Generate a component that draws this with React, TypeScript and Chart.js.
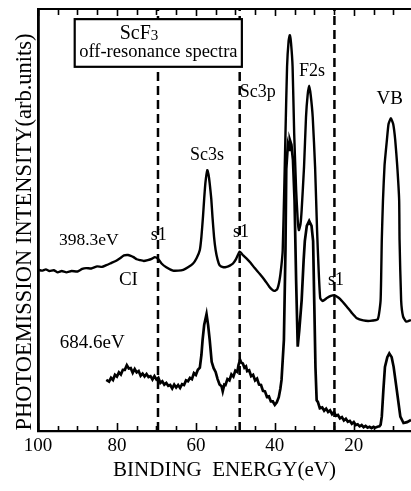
import React, { useEffect, useRef } from "react";
import { Chart, registerables } from "chart.js";

Chart.register(...registerables);

// Binding energy (eV) and intensity (arb. units) — 398.3 eV spectrum
const upperBE = [
  99.9, 99.0, 98.0, 97.1, 96.0, 95.0, 94.0, 92.8, 91.5, 90.0, 88.8, 87.8, 86.5, 85.0, 83.8, 82.7,
  81.5, 80.3, 79.3, 78.2, 77.2, 76.5, 75.8, 75.0, 74.2, 73.2, 72.2, 71.2, 70.4, 69.6, 68.7, 67.5,
  65.8, 64.5, 63.2, 62.0, 60.7, 59.8, 59.0, 58.6, 58.2, 57.9, 57.6, 57.1, 56.8, 56.5, 56.1, 55.8,
  55.4, 55.0, 54.5, 54.0, 53.0, 52.2, 51.4, 50.6, 49.8, 48.9, 48.0, 47.2, 46.1, 45.1, 43.8, 42.6,
  41.4, 40.7, 40.1, 39.4, 38.8, 38.3, 38.0, 37.6, 37.3, 36.9, 36.5, 36.2, 35.9, 35.5, 35.1, 34.6,
  34.2, 33.9, 33.5, 33.2, 32.6, 32.1, 31.7, 31.3, 30.9, 30.4, 29.8, 29.3, 28.9, 28.5, 27.9, 26.8,
  25.8, 24.9, 24.2, 23.5, 21.8, 20.5, 19.2, 17.6, 15.9, 13.9, 13.2, 12.9, 12.6, 12.2, 11.6, 11.2,
  10.6, 10.0, 9.5, 9.0, 8.5, 8.4, 8.0, 7.5, 6.7, 5.5,
];
const upperI = [
  38.2, 38.0, 38.3, 37.9, 38.1, 37.6, 37.9, 37.6, 37.9, 37.8, 38.4, 38.6, 38.5, 39.0, 38.9, 39.3,
  39.8, 40.3, 40.9, 41.6, 41.7, 41.5, 41.2, 40.7, 40.5, 40.3, 40.5, 40.8, 41.2, 40.8, 39.7, 38.8,
  38.0, 38.0, 38.2, 38.8, 39.7, 41.0, 42.9, 46.0, 50.8, 55.0, 58.7, 61.8, 60.8, 58.7, 55.0, 50.8,
  46.0, 42.9, 40.6, 39.3, 38.8, 38.9, 39.2, 39.7, 40.8, 42.5, 41.6, 40.9, 39.8, 38.6, 37.2, 35.8,
  34.2, 33.5, 33.2, 33.6, 35.8, 39.5, 42.9, 57.8, 70.6, 86.3, 92.5, 93.8, 92.0, 86.3, 70.6, 57.1,
  50.0, 47.6, 49.0, 52.4, 62.6, 74.4, 79.5, 81.8, 79.5, 74.4, 62.6, 47.6, 38.2, 31.5, 30.8, 31.5,
  32.0, 32.2, 31.8, 31.3, 29.5, 28.0, 26.7, 26.2, 26.1, 26.5, 31.0, 45.3, 54.7, 63.0, 69.0, 72.7,
  74.1, 72.7, 69.0, 63.0, 54.7, 45.3, 31.0, 27.1, 25.9, 26.3,
];

// 684.6 eV spectrum
const lowerBE = [
  82.7, 82.0, 81.5, 81.0, 80.5, 80.0, 79.5, 79.0, 78.5, 78.0, 77.5, 77.0, 76.5, 76.0, 75.5, 75.0,
  74.5, 74.0, 73.5, 73.0, 72.5, 72.0, 71.5, 71.0, 70.5, 70.0, 69.5, 69.0, 68.5, 68.0, 67.5, 67.0,
  66.5, 66.0, 65.5, 65.0, 64.5, 64.0, 63.5, 63.0, 62.5, 62.0, 61.5, 61.0, 60.5, 60.0, 59.5, 59.0,
  58.6, 58.3, 57.9, 57.3, 56.9, 56.5, 56.0, 55.5, 55.0, 54.5, 54.0, 53.5, 53.2, 52.8, 52.5, 52.0,
  51.5, 51.0, 50.5, 50.0, 49.5, 49.2, 48.8, 48.5, 48.1, 47.7, 47.3, 47.0, 46.5, 46.0, 45.5, 45.0,
  44.5, 44.0, 43.5, 43.0, 42.5, 42.0, 41.5, 41.0, 40.5, 40.0, 39.5, 39.0, 38.6, 38.3, 37.7, 37.3,
  37.1, 36.7, 36.4, 36.2, 35.8, 35.4, 35.0, 34.6, 34.2, 33.8, 33.2, 32.7, 32.4, 31.9, 31.3, 30.7,
  30.3, 30.0, 29.7, 29.4, 29.1, 28.6, 28.0, 27.5, 27.0, 26.5, 26.0, 25.5, 25.0, 24.5, 24.0, 23.5,
  23.0, 22.5, 22.0, 21.5, 21.0, 20.5, 20.0, 19.5, 19.0, 18.5, 18.0, 17.5, 17.0, 16.5, 16.0, 15.5,
  15.0, 14.5, 14.0, 13.5, 13.2, 12.9, 12.5, 12.1, 11.5, 11.0, 10.4, 9.9, 9.1, 8.2, 7.4, 6.5, 5.5,
];
const lowerI = [
  12.1, 11.7, 12.6, 12.1, 13.3, 12.9, 13.9, 13.4, 14.5, 14.5, 15.6, 14.8, 14.9, 13.8, 14.7, 13.9,
  14.2, 13.1, 13.6, 12.9, 13.5, 12.8, 13.0, 12.2, 13.0, 12.2, 12.6, 11.4, 11.8, 11.0, 11.4, 10.7,
  10.9, 10.1, 11.0, 10.3, 10.9, 10.2, 11.1, 10.9, 12.0, 11.8, 12.6, 12.3, 13.7, 13.3, 14.5, 15.0,
  18.0, 21.6, 25.1, 27.7, 25.1, 21.6, 16.4, 14.9, 14.0, 12.3, 11.0, 10.6, 9.4, 11.0, 10.9, 12.3,
  12.0, 13.4, 12.9, 14.3, 14.0, 15.6, 16.9, 16.2, 16.0, 15.0, 15.3, 14.2, 14.4, 13.0, 13.3, 12.0,
  12.4, 11.0, 10.9, 9.5, 9.4, 8.1, 8.2, 7.0, 7.0, 6.2, 6.8, 8.0, 10.0, 12.1, 21.6, 43.1,
  62.1, 67.8, 66.6, 69.0, 67.8, 64.2, 54.5, 35.5, 20.0, 23.9, 31.0, 40.5, 45.0, 48.6, 49.8, 48.6,
  45.0, 30.0, 15.0, 7.3, 6.9, 5.4, 5.6, 4.8, 5.3, 4.5, 4.9, 4.0, 4.5, 3.6, 3.8, 3.0,
  3.3, 2.5, 2.9, 2.2, 2.4, 1.7, 2.1, 1.4, 1.6, 1.1, 1.4, 0.9, 1.2, 0.8, 1.0, 0.7,
  1.0, 0.8, 1.0, 1.1, 1.5, 3.4, 9.7, 15.2, 17.5, 18.4, 17.5, 15.2, 9.7, 3.4, 1.9, 2.1, 2.6,
];

// Satellite (s1) reference lines, eV
const s1Lines = [69.6, 48.9, 24.9];

// Axis tick labels
const xTickLabels = [100, 80, 60, 40, 20];

// Peak / curve labels: text, binding energy, intensity
const labelTexts = ["Sc3s", "Sc3p", "F2s", "VB", "s1", "s1", "CI", "s1"];
const labelBE = [57.2, 44.3, 30.6, 10.9, 69.4, 48.6, 77.1, 24.5];
const labelI = [64.2, 79.1, 84.1, 77.5, 45.3, 46.0, 34.6, 34.6];

const seriesNames = ["398.3eV", "684.6eV"];
const seriesLabelBE = [94.7, 94.5];
const seriesLabelI = [44.1, 19.6];

const FONT = '"Liberation Serif", "Times New Roman", serif';

const decorPlugin = {
  id: "decor",
  afterDatasetsDraw(chart: any) {
    const { ctx, chartArea, scales } = chart;
    const xs = scales.x;
    const ys = scales.y;
    const { left, right, top, bottom } = chartArea;
    ctx.save();
    ctx.strokeStyle = "#000";
    ctx.fillStyle = "#000";

    // top frame line
    ctx.lineWidth = 2.2;
    ctx.beginPath();
    ctx.moveTo(left, top);
    ctx.lineTo(right, top);
    ctx.stroke();

    // inward ticks every 5 eV
    ctx.lineWidth = 1.6;
    for (let v = 100; v >= 5; v -= 5) {
      const px = Math.round(xs.getPixelForValue(v)) + 0.5;
      if (px < left || px > right) continue;
      const major = v % 20 === 0;
      const lb = major ? 8 : 5;
      const lt = major ? 7 : 6;
      ctx.beginPath();
      ctx.moveTo(px, bottom);
      ctx.lineTo(px, bottom - lb);
      ctx.moveTo(px, top);
      ctx.lineTo(px, top + lt);
      ctx.stroke();
    }

    // title box
    const bx1 = xs.getPixelForValue(90.7);
    const bx2 = xs.getPixelForValue(48.35);
    const by1 = ys.getPixelForValue(97.6);
    const by2 = ys.getPixelForValue(86.3);
    ctx.fillStyle = "#fff";
    ctx.fillRect(bx1, by1, bx2 - bx1, by2 - by1);
    ctx.lineWidth = 2.2;
    ctx.strokeRect(bx1, by1, bx2 - bx1, by2 - by1);
    ctx.fillStyle = "#000";

    // ScF3
    ctx.textBaseline = "alphabetic";
    ctx.textAlign = "left";
    ctx.font = `20px ${FONT}`;
    const w1 = ctx.measureText("ScF").width;
    ctx.font = `15px ${FONT}`;
    const w2 = ctx.measureText("3").width;
    const cx = xs.getPixelForValue(74.4);
    const base1 = ys.getPixelForValue(92.9);
    const sx = cx - (w1 + w2) / 2;
    ctx.font = `20px ${FONT}`;
    ctx.fillText("ScF", sx, base1);
    ctx.font = `15px ${FONT}`;
    ctx.fillText("3", sx + w1, base1 + 1);

    ctx.textAlign = "center";
    ctx.font = `18.5px ${FONT}`;
    ctx.fillText("off-resonance spectra", xs.getPixelForValue(69.5), ys.getPixelForValue(88.6));

    // peak labels
    labelTexts.forEach((t, i) => {
      const size = t === "VB" || t === "CI" ? 19 : 18;
      ctx.font = `${size}px ${FONT}`;
      ctx.textAlign = "center";
      ctx.fillText(t, xs.getPixelForValue(labelBE[i]), ys.getPixelForValue(labelI[i]));
    });

    // series labels
    seriesNames.forEach((t, i) => {
      ctx.font = `${i === 0 ? 17.5 : 19}px ${FONT}`;
      ctx.textAlign = "left";
      ctx.fillText(t, xs.getPixelForValue(seriesLabelBE[i]), ys.getPixelForValue(seriesLabelI[i]));
    });

    // y axis title
    ctx.save();
    ctx.translate(25, (top + bottom) / 2 + 12);
    ctx.rotate(-Math.PI / 2);
    ctx.textAlign = "center";
    ctx.textBaseline = "middle";
    ctx.font = `22.5px ${FONT}`;
    ctx.fillText("PHOTOEMISSION INTENSITY(arb.units)", 0, 0);
    ctx.restore();

    ctx.restore();
  },
};

export default function App() {
  const ref = useRef<HTMLCanvasElement>(null);

  useEffect(() => {
    const canvas = ref.current;
    if (!canvas) return;
    const upper = upperBE.map((x, i) => ({ x, y: upperI[i] }));
    const lower = lowerBE.map((x, i) => ({ x, y: lowerI[i] }));
    const dashed = s1Lines.map((v) => ({
      label: "s1 " + v,
      data: [
        { x: v, y: 0 },
        { x: v, y: 100 },
      ],
      borderColor: "#000",
      borderWidth: 2.5,
      borderDash: [9, 5],
      pointRadius: 0,
      fill: false,
    }));

    const chart = new Chart(canvas, {
      type: "line",
      data: {
        datasets: [
          ...dashed,
          {
            label: "398.3eV",
            data: upper,
            borderColor: "#000",
            borderWidth: 2.4,
            pointRadius: 0,
            fill: false,
            tension: 0.15,
          },
          {
            label: "684.6eV",
            data: lower,
            borderColor: "#000",
            borderWidth: 2.7,
            pointRadius: 0,
            fill: false,
            tension: 0,
          },
        ],
      },
      options: {
        responsive: false,
        animation: false,
        devicePixelRatio: 1,
        layout: { padding: { top: 9, left: 0, right: 0, bottom: 0 } },
        plugins: {
          legend: { display: false },
          tooltip: { enabled: false },
        },
        scales: {
          x: {
            type: "linear",
            min: 5.5,
            max: 100,
            reverse: true,
            afterBuildTicks: (s: any) => {
              s.ticks = xTickLabels.map((v) => ({ value: v }));
            },
            afterFit: (s: any) => {
              s.height = 60;
            },
            ticks: {
              color: "#000",
              font: { family: FONT, size: 19 },
              padding: 4,
              maxRotation: 0,
              autoSkip: false,
            },
            grid: { display: false, drawTicks: false },
            border: { display: true, color: "#000", width: 2.2 },
            title: {
              display: true,
              text: "BINDING  ENERGY(eV)",
              color: "#000",
              font: { family: FONT, size: 21 },
              padding: { top: 0, bottom: 8 },
            },
          },
          y: {
            type: "linear",
            min: 0,
            max: 100,
            afterFit: (s: any) => {
              s.width = 38;
            },
            ticks: { display: false },
            grid: { display: false, drawTicks: false },
            border: { display: true, color: "#000", width: 2.8 },
          },
        },
      },
      plugins: [decorPlugin],
    } as any);

    return () => chart.destroy();
  }, []);

  return (
    <div
      style={{
        position: "absolute",
        left: 0,
        top: 0,
        width: 411,
        height: 491,
        background: "#fff",
      }}
    >
      <canvas ref={ref} width={411} height={491} style={{ display: "block", width: 411, height: 491 }} />
    </div>
  );
}
